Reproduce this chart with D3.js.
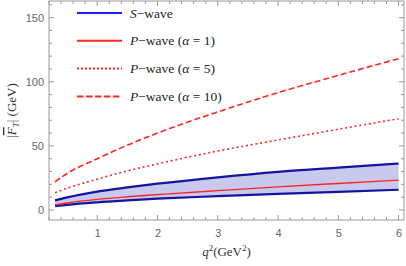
<!DOCTYPE html>
<html>
<head>
<meta charset="utf-8">
<script src="https://cdn.jsdelivr.net/npm/d3@7"></script>
<style>
  body { margin: 0; background: #fff; }
  .tick text { font-family: "Liberation Sans", Arial, sans-serif; font-size: 11px; fill: #666; }
</style>
</head>
<body>
<div class="chart"></div>
<script>
// values
const q2 = [0.3, 0.5, 1, 1.5, 2, 3, 4, 5, 6];
const sUpper = [7.5, 9.8, 14.3, 17.6, 20.5, 25.5, 29.8, 33.1, 36.2];
const sLower = [2.9, 4.0, 6.0, 7.5, 8.8, 10.8, 12.6, 14.2, 15.8];
const pAlpha1 = [4.0, 5.5, 8.3, 10.3, 12.0, 15.1, 18.0, 20.7, 23.3];
const pAlpha5 = [13.5, 17.0, 24.0, 30.5, 36.0, 46.0, 54.6, 63.0, 71.2];
const pAlpha10 = [22.0, 28.5, 40.0, 50.5, 60.0, 76.5, 91.5, 105.0, 118.0];
const xTicks = [1, 2, 3, 4, 5, 6];
const yTicks = [0, 50, 100, 150];

(function(){
    const svgWidth = 406, svgHeight = 266;
    const margin = {top: 1, right: 2, bottom: 46, left: 49};
    const width = svgWidth - margin.left - margin.right;
    const height = svgHeight - margin.top - margin.bottom;
    const serif = "'Liberation Serif', 'Times New Roman', serif";

    const svg = d3.select(".chart").append("svg")
        .attr("width", svgWidth)
        .attr("height", svgHeight);

    const g = svg.append("g")
        .attr("transform", `translate(${margin.left}, ${margin.top})`);

    const x = d3.scaleLinear().domain([0.2, 6.09]).range([0, width]);
    const y = d3.scaleLinear().domain([-7.8, 163]).range([height, 0]);

    const pts = arr => q2.map((q, i) => [q, arr[i]]);

    // band between S-wave bounds
    const area = d3.area()
        .curve(d3.curveMonotoneX)
        .x((d, i) => x(q2[i]))
        .y0((d, i) => y(sLower[i]))
        .y1(d => y(d));
    g.append("path")
        .datum(sUpper)
        .attr("d", area)
        .attr("fill", "#c9c9ee");

    const line = d3.line()
        .curve(d3.curveMonotoneX)
        .x(d => x(d[0]))
        .y(d => y(d[1]));

    const series = [
        {data: sUpper, color: "#1414a0", w: 2.2, dash: null},
        {data: sLower, color: "#1414a0", w: 2.2, dash: null},
        {data: pAlpha1, color: "#ff2626", w: 1.4, dash: null},
        {data: pAlpha5, color: "#ff2626", w: 1.6, dash: "2,2.8"},
        {data: pAlpha10, color: "#ff2626", w: 1.6, dash: "6,3"}
    ];
    series.forEach(s => {
        g.append("path")
            .datum(pts(s.data))
            .attr("d", line)
            .attr("fill", "none")
            .attr("stroke", s.color)
            .attr("stroke-width", s.w)
            .attr("stroke-dasharray", s.dash);
    });

    // frame with inward ticks
    const minorX = d3.range(0.2, 6.01, 0.2).filter(v => Math.abs(v - Math.round(v)) > 0.01);
    const minorY = d3.range(0, 161, 10).filter(v => v % 50 !== 0);
    const frame = g.append("g").attr("stroke", "#999").attr("stroke-width", 1);
    frame.append("rect")
        .attr("x", 0).attr("y", 0)
        .attr("width", width).attr("height", height)
        .attr("fill", "none");

    const tickX = (vals, len) => {
        frame.selectAll(null).data(vals).enter().append("line")
            .attr("x1", d => x(d)).attr("x2", d => x(d))
            .attr("y1", height).attr("y2", height - len);
        frame.selectAll(null).data(vals).enter().append("line")
            .attr("x1", d => x(d)).attr("x2", d => x(d))
            .attr("y1", 0).attr("y2", len);
    };
    const tickY = (vals, len) => {
        frame.selectAll(null).data(vals).enter().append("line")
            .attr("y1", d => y(d)).attr("y2", d => y(d))
            .attr("x1", 0).attr("x2", len);
        frame.selectAll(null).data(vals).enter().append("line")
            .attr("y1", d => y(d)).attr("y2", d => y(d))
            .attr("x1", width).attr("x2", width - len);
    };
    tickX(xTicks, 5); tickX(minorX, 3);
    tickY(yTicks, 5); tickY(minorY, 3);

    // tick labels via axes, no lines
    const bottomAxis = d3.axisBottom(x).tickValues(xTicks).tickFormat(d3.format("d"))
        .tickSize(0).tickPadding(9);
    const leftAxis = d3.axisLeft(y).tickValues(yTicks).tickSize(0).tickPadding(5);
    g.append("g").attr("transform", `translate(0, ${height})`).call(bottomAxis)
        .call(a => a.select(".domain").remove());
    g.append("g").call(leftAxis)
        .call(a => a.select(".domain").remove());

    // axis titles
    const xt = svg.append("text")
        .attr("font-family", serif).attr("font-size", 13).attr("fill", "#333")
        .attr("x", margin.left + width / 2).attr("y", 256)
        .attr("text-anchor", "middle");
    xt.append("tspan").attr("font-style", "italic").text("q");
    xt.append("tspan").attr("font-size", "9px").attr("dy", -5).text("2");
    xt.append("tspan").attr("dy", 5).text("(GeV");
    xt.append("tspan").attr("font-size", "9px").attr("dy", -5).text("2");
    xt.append("tspan").attr("dy", 5).text(")");

    const yt = svg.append("text")
        .attr("font-family", serif).attr("font-size", 13).attr("fill", "#333")
        .attr("transform", `translate(16, ${margin.top + height / 2}) rotate(-90)`)
        .attr("text-anchor", "middle");
    yt.append("tspan").text("|");
    yt.append("tspan").attr("font-style", "italic")
        .attr("text-decoration", "overline").text("F");
    yt.append("tspan").attr("font-style", "italic").attr("font-size", "9px")
        .attr("dy", 3).text("T");
    yt.append("tspan").attr("dy", -3).text("| (GeV)");

    // legend
    const legend = [
        {pre: "S", txt: "\u2212wave", color: "#1f1fff", w: 2.2, dash: null},
        {pre: "P", txt: "\u2212wave (", a: "1", color: "#ff2626", w: 2, dash: null},
        {pre: "P", txt: "\u2212wave (", a: "5", color: "#ff2626", w: 2, dash: "2,2"},
        {pre: "P", txt: "\u2212wave (", a: "10", color: "#ff2626", w: 2, dash: "6.5,2.5"}
    ];
    const lg = svg.append("g");
    legend.forEach((d, i) => {
        const yy = 13 + i * 27.8;
        lg.append("line")
            .attr("x1", 77).attr("x2", 122)
            .attr("y1", yy).attr("y2", yy)
            .attr("stroke", d.color).attr("stroke-width", d.w)
            .attr("stroke-dasharray", d.dash);
        const t = lg.append("text")
            .attr("font-family", serif).attr("font-size", 13.5).attr("fill", "#222")
            .attr("x", 130).attr("y", yy + 4.5);
        t.append("tspan").attr("font-style", "italic").text(d.pre);
        t.append("tspan").text(d.txt);
        if (d.a) {
            t.append("tspan").attr("font-style", "italic").text("\u03b1");
            t.append("tspan").text(" = " + d.a + ")");
        }
    });
})();
</script>
</body>
</html>
